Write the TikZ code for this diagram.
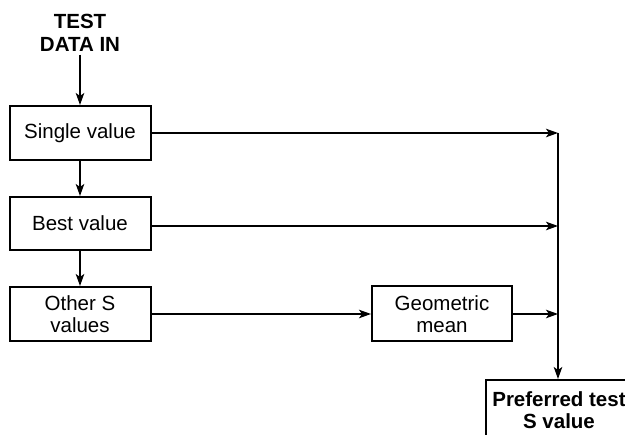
\documentclass[tikz,border=0pt]{standalone}
\usepackage{fontspec}
\setmainfont{Liberation Sans}
\usetikzlibrary{arrows.meta}
\begin{document}
\begin{tikzpicture}[x=1pt,y=-1pt,
  box/.style={draw, line width=2pt, rectangle, inner sep=0pt,
    align=center, font=\fontsize{20.5}{22.5}\selectfont},
  arr/.style={line width=1.6pt, -{Stealth[length=12pt,width=8.5pt,inset=3pt]}},
  ln/.style={line width=1.6pt}]
\useasboundingbox (0,0) rectangle (625,435);
\clip (0,0) rectangle (625,435);

% input label
\node[align=center, font=\bfseries\fontsize{20.5}{22.5}\selectfont, inner sep=3pt] (title) at (80,33) {TEST\\DATA IN};

% left column of steps
\node[box, minimum width=141pt, minimum height=54pt] (single) at (80,133) {Single value};
\node[box, minimum width=141pt, minimum height=53pt] (best) at (80,223.5) {Best value};
\node[box, minimum width=141pt, minimum height=54pt] (other) at (80,314) {Other S\\values};

% averaging step
\node[box, minimum width=140pt, minimum height=55pt] (geo) at (442,314) {Geometric\\mean};

% result
\node[box, minimum width=146pt, minimum height=60pt, font=\bfseries\fontsize{20.5}{22.5}\selectfont] (pref) at (559,410) {Preferred test\\S value};

% collector line junctions
\coordinate (j1) at (558,133);
\coordinate (j2) at (558,226);
\coordinate (j3) at (558,314);

% connectors
\draw[arr] (title) -- (single);
\draw[arr] (single) -- (best);
\draw[arr] (best) -- (other);
\draw[arr] (other) -- (geo);
\draw[arr] (single.east) -- (j1);
\draw[arr] (best.east |- j2) -- (j2);
\draw[arr] (geo.east |- j3) -- (j3);
\draw[ln] (j1) -- (j3);
\draw[arr] (j1) -- (pref.north -| j1);
\end{tikzpicture}
\end{document}
